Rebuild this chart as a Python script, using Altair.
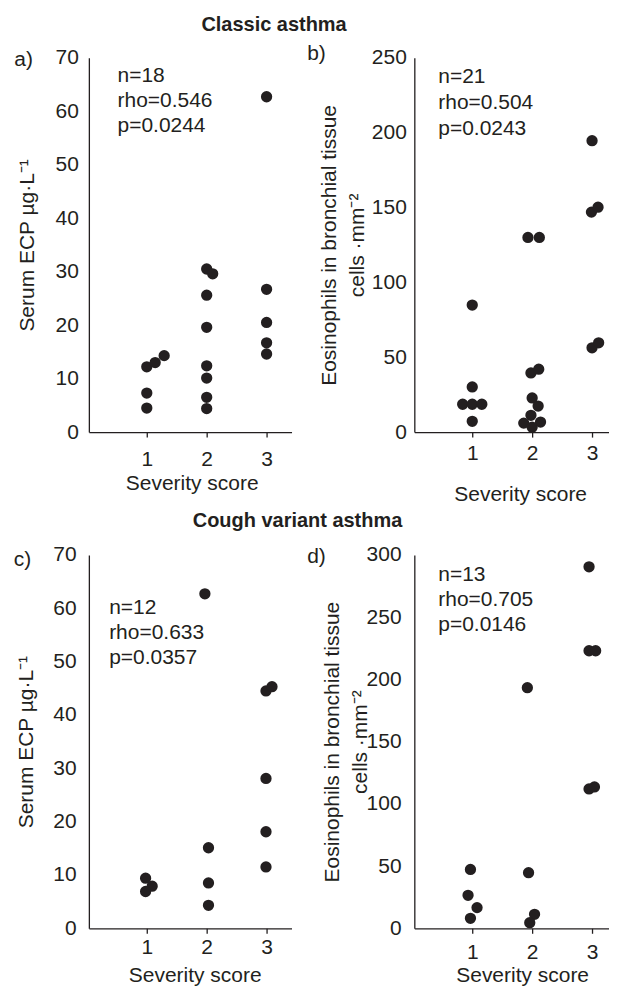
import altair as alt
import pandas as pd

# ---------------- data ----------------
# a) Classic asthma, serum ECP (ug/L) vs severity score
a_x = [1, 1.14, 1.29, 1, 1, 2, 2.1, 2, 2, 2, 2, 2, 2, 3, 3, 3, 3, 3]
a_y = [12.2, 13.0, 14.3, 7.3, 4.5, 30.5, 29.6, 25.6, 19.6, 12.4, 10.1, 6.5, 4.4,
       62.7, 26.7, 20.5, 16.7, 14.6]
a_stats = ["n=18", "rho=0.546", "p=0.0244"]

# b) Classic asthma, eosinophils in bronchial tissue (cells/mm2)
b_x = [1, 1, 0.84, 1, 1.16, 1,
       1.93, 2.12, 1.98, 2.11, 2.0, 2.1, 1.98, 1.86, 2.14, 2.0,
       3, 2.99, 3.1, 3, 3.11]
b_y = [84.8, 30.2, 18.6, 18.6, 18.6, 7.2,
       130, 130, 39.5, 42, 22.8, 17.4, 11.2, 6.0, 6.7, 3.3,
       194.6, 146.9, 150.2, 56.3, 59.6]
b_stats = ["n=21", "rho=0.504", "p=0.0243"]

# c) Cough variant asthma, serum ECP
c_x = [0.98, 1.09, 0.98, 1.97, 2.03, 2.03, 2.03, 2.99, 3.09, 2.99, 2.99, 2.99]
c_y = [9.4, 7.9, 6.9, 62.7, 15.1, 8.5, 4.3, 44.5, 45.3, 28.1, 18.1, 11.5]
c_stats = ["n=12", "rho=0.633", "p=0.0357"]

# d) Cough variant asthma, eosinophils in bronchial tissue
d_x = [0.97, 0.93, 1.08, 0.97, 1.92, 1.94, 2.04, 1.96, 2.95, 2.95, 3.06, 2.95, 3.04]
d_y = [47.3, 26.5, 16.6, 8.0, 193.3, 44.7, 11.2, 4.5, 290.4, 223, 223, 112, 113.6]
d_stats = ["n=13", "rho=0.705", "p=0.0146"]

severity_ticks = [1, 2, 3]
ecp_title = "Serum ECP  \u00b5g\u00b7L\u207b\u00b9"
eos_title = ["Eosinophils in bronchial tissue", "cells \u00b7mm\u207b\u00b2"]

# ---------------- style ----------------
FONT = "Liberation Sans, Arial, Helvetica, sans-serif"
INK = "#231f20"
PX_PER_UNIT = 60.0
one = pd.DataFrame({"k": [0]})


def panel(xs, ys, ymax, ystep, w, h, ytitle, ytx, ylh, ylpad, xlpad, xty, xtx,
          label, lx, ly, stats, sx, sy, slh, title=None, tx=0, ty=0, anchor=False):
    df = pd.DataFrame({"severity": xs, "value": ys})
    xdom = [0.033, 0.033 + w / PX_PER_UNIT]
    pts = alt.Chart(df).mark_circle(size=128, color=INK, opacity=1).encode(
        x=alt.X("severity:Q",
                scale=alt.Scale(domain=xdom, nice=False, zero=False),
                axis=alt.Axis(values=severity_ticks, format="d", title="Severity score",
                              tickSize=5, labelPadding=xlpad, labelFlush=False,
                              titleY=xty, titleX=xtx, titleBaseline="top",
                              titleAlign="center")),
        y=alt.Y("value:Q",
                scale=alt.Scale(domain=[0, ymax], nice=False),
                axis=alt.Axis(values=list(range(0, ymax + 1, ystep)), title=ytitle,
                              ticks=False, tickSize=0, labelPadding=ylpad,
                              titleX=ytx, titleY=h / 2, titleAngle=270,
                              titleBaseline="middle", titleAlign="center",
                              titleLineHeight=ylh)),
    )
    layers = [pts]
    layers.append(alt.Chart(one).mark_text(
        text=stats, align="left", baseline="top", lineHeight=slh,
        font=FONT, fontSize=21, color=INK).encode(x=alt.value(sx), y=alt.value(sy)))
    layers.append(alt.Chart(one).mark_text(
        text=label, align="left", baseline="middle",
        font=FONT, fontSize=21, color=INK).encode(x=alt.value(lx), y=alt.value(ly)))
    if title:
        layers.append(alt.Chart(one).mark_text(
            text=title, align="center", baseline="middle", font=FONT,
            fontSize=20, fontWeight="bold", color=INK).encode(
            x=alt.value(tx), y=alt.value(ty)))
    if anchor:
        layers.append(alt.Chart(one).mark_rule(color="white", strokeWidth=0.2).encode(
            x=alt.value(-80), x2=alt.value(-79.5), y=alt.value(-48)))
    return alt.layer(*layers).properties(width=w, height=h)


WL, WR = 203, 195
pa = panel(a_x, a_y, 70, 10, WL, 375, ecp_title, -61, 28, 10.5, 11, 40.5, 103,
           "a)", -74.7, 2.3, a_stats, 28.7, 7, 25,
           title="Classic asthma", tx=185.5, ty=-33, anchor=True)
pb = panel(b_x, b_y, 250, 50, WR, 375, eos_title, -85.3, 28, 8, 5, 51.5, 106,
           "b)", -107.3, -3.5, b_stats, 24, 8.3, 26)
pc = panel(c_x, c_y, 70, 10, WL, 374, ecp_title, -62, 28, 12.7, 3, 36.5, 106,
           "c)", -75.3, 5.5, c_stats, 20.3, 42, 25,
           title="Cough variant asthma", tx=209, ty=-34)
pd_ = panel(d_x, d_y, 300, 50, WR, 374, eos_title, -82, 28, 13.3, 8, 36, 108,
            "d)", -107.3, 2.5, d_stats, 24, 9, 25)

chart = alt.concat(
    pa, pb, pc, pd_, columns=2,
    spacing={"row": 123, "column": 123}, bounds="flush",
).properties(
    padding={"left": 0, "top": 0, "right": 0, "bottom": -1}, background="white"
).configure_view(
    stroke=None
).configure_axis(
    grid=False, domainColor=INK, domainWidth=1.3, tickColor=INK, tickWidth=1.3,
    labelColor=INK, titleColor=INK, labelFont=FONT, titleFont=FONT,
    labelFontSize=21, titleFontSize=21, titleFontWeight="normal",
)

chart.save("out.html", embed_options={"renderer": "svg", "actions": False})
